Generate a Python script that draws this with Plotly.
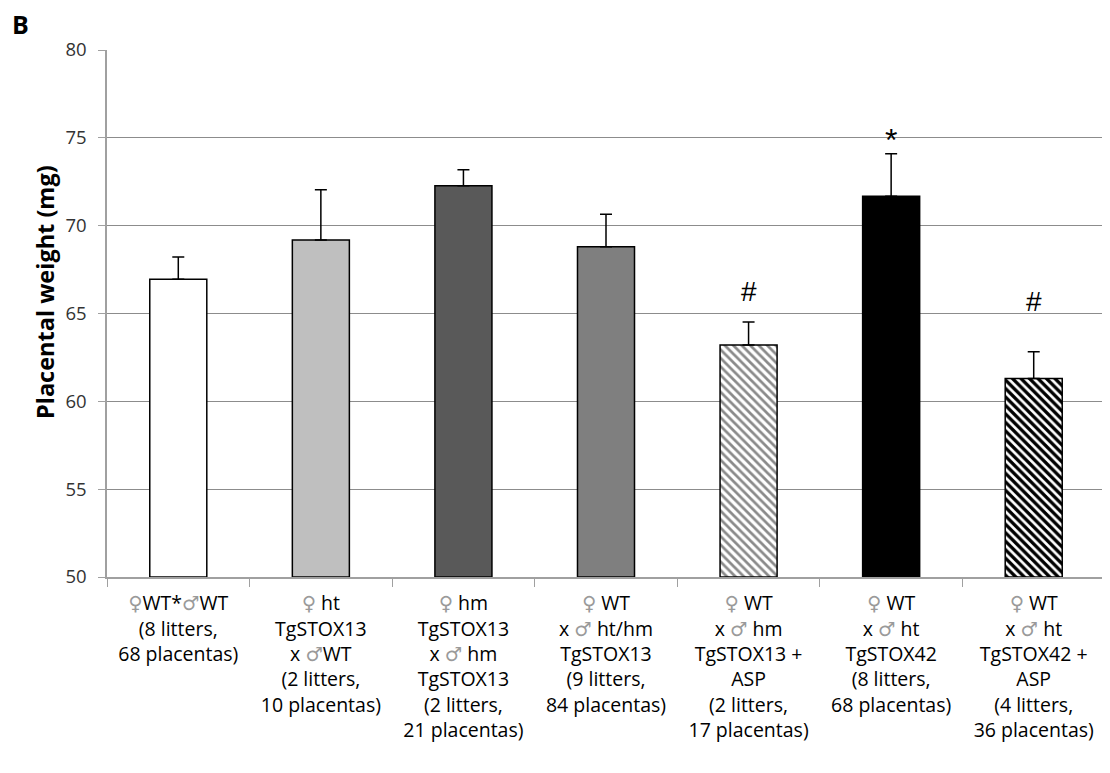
import plotly.graph_objects as go

SYM = "font-family:DejaVu Sans;color:#9a9a9a"
F = f"<span style='{SYM}'>♀</span>"
M = f"<span style='{SYM}'>♂</span>"

categories = [
    F + "WT*" + M + "WT<br>(8 litters,<br>68 placentas)",
    F + " ht<br>TgSTOX13<br>x " + M + "WT<br>(2 litters,<br>10 placentas)",
    F + " hm<br>TgSTOX13<br>x " + M + " hm<br>TgSTOX13<br>(2 litters,<br>21 placentas)",
    F + " WT<br>x " + M + " ht/hm<br>TgSTOX13<br>(9 litters,<br>84 placentas)",
    F + " WT<br>x " + M + " hm<br>TgSTOX13 +<br>ASP<br>(2 litters,<br>17 placentas)",
    F + " WT<br>x " + M + " ht<br>TgSTOX42<br>(8 litters,<br>68 placentas)",
    F + " WT<br>x " + M + " ht<br>TgSTOX42 +<br>ASP<br>(4 litters,<br>36 placentas)",
]
means = [66.95, 69.18, 72.27, 68.8, 63.2, 71.68, 61.3]
errors = [1.27, 2.87, 0.91, 1.85, 1.32, 2.42, 1.52]
marks = ["", "", "", "", "#", "*", "#"]
mark_shift = [0, 0, 0, 0, 30, 14, 50]

fill_colors = ["#ffffff", "#bfbfbf", "#595959", "#7f7f7f", "#ffffff", "#000000", "#ffffff"]
pattern_shapes = ["", "", "", "", "\\", "", "\\"]
pattern_fg = ["#000000", "#000000", "#000000", "#000000", "#8a8a8a", "#000000", "#000000"]
pattern_solid = [0.5, 0.5, 0.5, 0.5, 0.45, 0.5, 0.55]

# page has an 8px body margin; compensate
W, H = 1102, 765
L, T, R, B = 99, 42, 5, 196
PH = H - T - B

fig = go.Figure()
for i, c in enumerate(categories):
    fig.add_trace(go.Bar(
        x=[c], y=[means[i] - 50], base=50,
        width=0.4,
        marker=dict(
            color=fill_colors[i],
            line=dict(color="#000000", width=1.5),
            pattern=dict(shape=pattern_shapes[i], fgcolor=pattern_fg[i], fgopacity=1,
                         size=6, solidity=pattern_solid[i], fillmode="overlay"),
        ),
        error_y=dict(type="data", symmetric=False, array=[errors[i]],
                     arrayminus=[0], color="#000000", thickness=1.5, width=6),
        hoverinfo="skip",
    ))

for c, m, e, t, s in zip(categories, means, errors, marks, mark_shift):
    if t:
        fig.add_annotation(x=c, y=m + e, text=t, showarrow=False, yshift=s,
                           font=dict(size=28 if t == "#" else 32, color="#000",
                                     family="Liberation Sans"))

fig.add_annotation(xref="paper", yref="paper", x=(12 - L) / 998, y=1 + (T - 16) / PH,
                   text="<b>B</b>", showarrow=False,
                   font=dict(size=25, color="#000", family="Open Sans"),
                   xanchor="center", yanchor="middle")

fig.add_annotation(xref="paper", yref="paper", x=(37 - L) / 998, y=(T + PH - 284) / PH,
                   text="<b>Placental weight (mg)</b>", textangle=-90, showarrow=False,
                   font=dict(size=23.5, color="#000", family="Open Sans"),
                   xanchor="center", yanchor="middle")

fig.update_layout(
    width=W, height=H,
    margin=dict(l=L, r=R, t=T, b=B, autoexpand=False),
    paper_bgcolor="white", plot_bgcolor="white",
    showlegend=False, barmode="overlay",
    font=dict(family="Open Sans, sans-serif", size=18, color="#000"),
)
fig.update_xaxes(
    type="category", categoryorder="array", categoryarray=categories,
    tickson="boundaries", ticks="outside", ticklen=8,
    tickcolor="#a0a0a0", showline=True, linecolor="#a0a0a0", linewidth=1.5,
    showgrid=False, tickfont=dict(size=19.5, color="#000", family="Open Sans"),
    tickangle=0, automargin=False, ticklabelstandoff=8,
)
fig.update_yaxes(
    range=[50, 80], dtick=5, showgrid=True, gridcolor="#8c8c8c", gridwidth=1,
    showline=True, linecolor="#a0a0a0", linewidth=1.5, ticks="outside", ticklen=7,
    tickcolor="#a0a0a0", zeroline=False, automargin=False, ticklabelstandoff=8,
    tickfont=dict(size=18.5, color="#333", family="Open Sans"),
)

fig.write_html("out.html")
